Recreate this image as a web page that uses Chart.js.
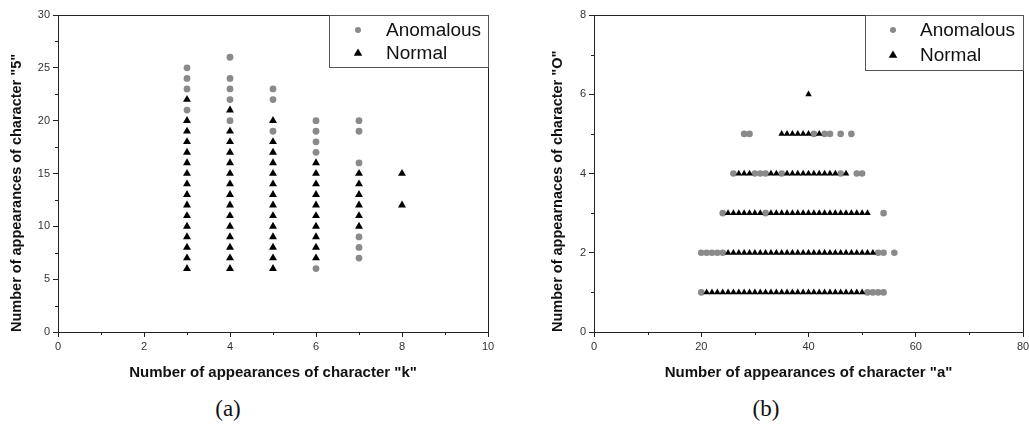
<!DOCTYPE html>
<html>
<head>
<meta charset="utf-8">
<script src="https://cdn.jsdelivr.net/npm/chart.js@4"></script>
<style>
  html, body { margin: 0; padding: 0; background: #fff; width: 1029px; height: 432px; overflow: hidden; }
  canvas { position: absolute; top: 0; }
  #ca { left: 0; }
  #cb { left: 520px; }
  .cap { position: absolute; top: 396px; font-family: "Liberation Serif", "DejaVu Serif", serif; font-size: 23px; color: #111; transform: translateX(-50%); }
</style>
</head>
<body>
<canvas id="ca" width="530" height="395"></canvas>
<canvas id="cb" width="530" height="395"></canvas>
<div class="cap" style="left:228px">(a)</div>
<div class="cap" style="left:766px">(b)</div>
<script>
// ---------- Panel (a): appearances of "k" (x) vs "5" (y) ----------
const aXTicks = [0, 2, 4, 6, 8, 10];
const aYTicks = [0, 5, 10, 15, 20, 25, 30];
const aNormalK3 = [6,7,8,9,10,11,12,13,14,15,16,17,18,19,20,22];
const aNormalK4 = [6,7,8,9,10,11,12,13,14,15,16,17,18,19,21];
const aNormalK5 = [6,7,8,9,10,11,12,13,14,15,16,17,18,20];
const aNormalK6 = [7,8,9,10,11,12,13,14,15,16];
const aNormalK7 = [10,11,12,13,14,15];
const aNormalK8 = [12,15];
const aAnomK3 = [21,23,24,25];
const aAnomK4 = [20,22,23,24,26];
const aAnomK5 = [19,22,23];
const aAnomK6 = [6,17,18,19,20];
const aAnomK7 = [7,8,9,16,19,20];

// ---------- Panel (b): appearances of "a" (x) vs "O" (y) ----------
const bXTicks = [0, 20, 40, 60, 80];
const bYTicks = [0, 2, 4, 6, 8];
const bNormalO1 = [21,22,23,24,25,26,27,28,29,30,31,32,33,34,35,36,37,38,39,40,41,42,43,44,45,46,47,48,49,50];
const bNormalO2 = [25,26,27,28,29,30,31,32,33,34,35,36,37,38,39,40,41,42,43,44,45,46,47,48,49,50,51,52];
const bNormalO3 = [25,26,27,28,29,30,31,33,34,35,36,37,38,39,40,41,42,43,44,45,46,47,48,49,50,51];
const bNormalO4 = [27,28,29,33,34,36,37,38,39,40,41,42,43,44,45,47];
const bNormalO5 = [35,36,37,38,39,40,42];
const bNormalO6 = [40];
const bAnomO1 = [20,51,52,53,54];
const bAnomO2 = [20,21,22,23,24,53,54,56];
const bAnomO3 = [24,32,54];
const bAnomO4 = [26,30,31,32,35,46,49,50];
const bAnomO5 = [28,29,41,43,44,46,48];

const seriesNames = ["Anomalous", "Normal"];

const aXMinor = [0,1,2,3,4,5,6,7,8,9,10];
const aYMinor = [0,2.5,5,7.5,10,12.5,15,17.5,20,22.5,25,27.5,30];
const bXMinor = [0,10,20,30,40,50,60,70,80];
const bYMinor = [0,1,2,3,4,5,6,7,8];

function colX(x, ys) { return ys.map(y => ({x: x, y: y})); }
function rowY(y, xs) { return xs.map(x => ({x: x, y: y})); }

const aNormal = [].concat(colX(3,aNormalK3), colX(4,aNormalK4), colX(5,aNormalK5), colX(6,aNormalK6), colX(7,aNormalK7), colX(8,aNormalK8));
const aAnom = [].concat(colX(3,aAnomK3), colX(4,aAnomK4), colX(5,aAnomK5), colX(6,aAnomK6), colX(7,aAnomK7));
const bNormal = [].concat(rowY(1,bNormalO1), rowY(2,bNormalO2), rowY(3,bNormalO3), rowY(4,bNormalO4), rowY(5,bNormalO5), rowY(6,bNormalO6));
const bAnom = [].concat(rowY(1,bAnomO1), rowY(2,bAnomO2), rowY(3,bAnomO3), rowY(4,bAnomO4), rowY(5,bAnomO5));

const GREY = '#8a8a8a';
const SANS = '"Liberation Sans", Arial, sans-serif';

function drawMarker(ctx, style, r, x, y, color) {
  ctx.save();
  ctx.fillStyle = color;
  ctx.beginPath();
  if (style === 'circle') {
    ctx.arc(x, y, r, 0, Math.PI * 2);
  } else {
    ctx.moveTo(x, y - r);
    ctx.lineTo(x + r * 0.95, y + r * 0.6);
    ctx.lineTo(x - r * 0.95, y + r * 0.6);
    ctx.closePath();
  }
  ctx.fill();
  ctx.restore();
}

function framePlugin(cfg) {
  return {
    id: 'frameLegend',
    afterDatasetsDraw(chart) {
      const {ctx, chartArea: ca} = chart;
      ctx.save();
      ctx.strokeStyle = '#222';
      ctx.lineWidth = 1;
      ctx.strokeRect(Math.round(ca.left) + 0.5, Math.round(ca.top) + 0.5, Math.round(ca.right - ca.left), Math.round(ca.bottom - ca.top));
      // short minor ticks, placed through the chart's own scales
      const xs = chart.scales.x, ys = chart.scales.y;
      ctx.beginPath();
      cfg.xMinor.filter(v => !cfg.xTicks.includes(v)).forEach(v => {
        const px = Math.round(xs.getPixelForValue(v)) + 0.5;
        ctx.moveTo(px, ca.bottom); ctx.lineTo(px, ca.bottom + 3);
      });
      cfg.yMinor.filter(v => !cfg.yTicks.includes(v)).forEach(v => {
        const py = Math.round(ys.getPixelForValue(v)) + 0.5;
        ctx.moveTo(ca.left, py); ctx.lineTo(ca.left - 3, py);
      });
      ctx.stroke();
      // legend box
      const L = cfg.legend;
      const bx = ca.right - L.w, by = ca.top;
      ctx.fillStyle = '#fff';
      ctx.fillRect(bx, by, L.w, L.h);
      ctx.strokeStyle = '#555';
      ctx.strokeRect(Math.round(bx) + 0.5, Math.round(by) + 0.5, L.w, L.h);
      ctx.font = L.font + 'px ' + SANS;
      ctx.fillStyle = '#111';
      ctx.textBaseline = 'middle';
      ctx.textAlign = 'left';
      drawMarker(ctx, 'circle', L.cr, bx + L.mx, by + L.r1, GREY);
      ctx.fillText(seriesNames[0], bx + L.tx, by + L.r1 + 1);
      drawMarker(ctx, 'triangle', L.tr, bx + L.mx, by + L.r2, '#000');
      ctx.fillText(seriesNames[1], bx + L.tx, by + L.r2 + 1);
      ctx.restore();
    }
  };
}

function makeChart(id, cfg) {
  const tickFont = {family: SANS, size: 11};
  const yTitleFont = {family: SANS, size: 14.5, weight: 'bold'};
  const xTitleFont = {family: SANS, size: 15, weight: 'bold'};
  const majorColor = (majors) => (c) => (c.tick && majors.includes(c.tick.value) ? '#222' : 'rgba(0,0,0,0)');
  return new Chart(document.getElementById(id), {
    type: 'scatter',
    data: {
      datasets: [
        { label: seriesNames[1], data: cfg.normal, pointStyle: 'triangle', pointRadius: cfg.tr, backgroundColor: '#000', borderColor: '#000', borderWidth: 0, order: 1 },
        { label: seriesNames[0], data: cfg.anom, pointStyle: 'circle', pointRadius: cfg.cr, backgroundColor: GREY, borderColor: GREY, borderWidth: 0, order: 2 }
      ]
    },
    options: {
      responsive: false,
      animation: false,
      devicePixelRatio: 1,
      layout: { padding: { left: 0, top: 15, right: cfg.padRight, bottom: 0 } },
      plugins: { legend: { display: false }, tooltip: { enabled: false } },
      scales: {
        x: {
          type: 'linear', min: cfg.xMin, max: cfg.xMax,
          afterFit(s) { s.height = 63; },
          afterBuildTicks(s) { s.ticks = cfg.xMinor.map(v => ({value: v})); },
          ticks: { font: tickFont, color: '#333', padding: 3, maxRotation: 0, autoSkip: false,
                   callback: v => (cfg.xTicks.includes(v) ? String(v) : '') },
          grid: { drawOnChartArea: false, color: '#222', tickColor: majorColor(cfg.xTicks), tickLength: 5, tickWidth: 1 },
          border: { color: '#222', width: 1 },
          title: { display: true, text: cfg.xTitle, font: xTitleFont, color: '#111', padding: { top: 0, bottom: 13 } }
        },
        y: {
          type: 'linear', min: cfg.yMin, max: cfg.yMax,
          afterFit(s) { s.width = cfg.yWidth; },
          afterBuildTicks(s) { s.ticks = cfg.yMinor.map(v => ({value: v})); },
          ticks: { font: tickFont, color: '#333', padding: 3, autoSkip: false,
                   callback: v => (cfg.yTicks.includes(v) ? String(v) : '') },
          grid: { drawOnChartArea: false, color: '#222', tickColor: majorColor(cfg.yTicks), tickLength: 5, tickWidth: 1 },
          border: { color: '#222', width: 1 },
          title: { display: true, align: 'start', text: cfg.yTitle, font: yTitleFont, color: '#111', padding: { top: cfg.yTitlePad, bottom: 0 } }
        }
      }
    },
    plugins: [framePlugin(cfg)]
  });
}

makeChart('ca', {
  normal: aNormal, anom: aAnom, tr: 4.6, cr: 3.4,
  xMin: 0, xMax: 10, yMin: 0, yMax: 30,
  xTicks: aXTicks, yTicks: aYTicks, xMinor: aXMinor, yMinor: aYMinor,
  xTitle: 'Number of appearances of character "k"',
  yTitle: 'Number of appearances of character "5"',
  padRight: 42, yWidth: 58, yTitlePad: 8,
  legend: { w: 159, h: 52, mx: 29, tx: 57, r1: 15, r2: 38, font: 19, cr: 3, tr: 4.5 }
});

makeChart('cb', {
  normal: bNormal, anom: bAnom, tr: 3.8, cr: 3.3,
  xMin: 0, xMax: 80, yMin: 0, yMax: 8,
  xTicks: bXTicks, yTicks: bYTicks, xMinor: bXMinor, yMinor: bYMinor,
  xTitle: 'Number of appearances of character "a"',
  yTitle: 'Number of appearnaces of character "O"',
  padRight: 27, yWidth: 74, yTitlePad: 29,
  legend: { w: 158, h: 55, mx: 28, tx: 55, r1: 15, r2: 40, font: 19, cr: 3, tr: 4.5 }
});
</script>
</body>
</html>
